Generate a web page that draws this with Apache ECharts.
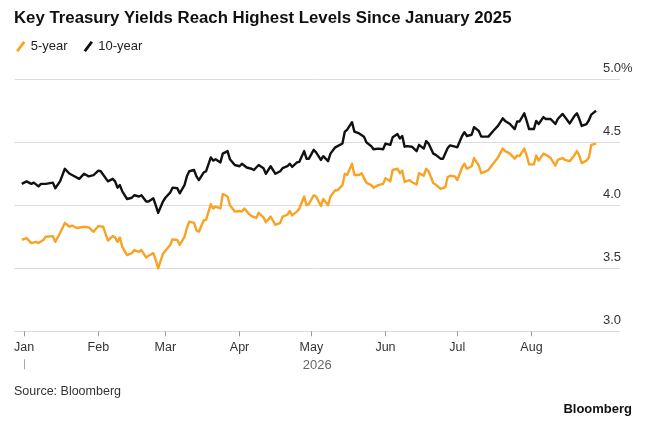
<!DOCTYPE html>
<html>
<head>
<meta charset="utf-8">
<script src="https://cdn.jsdelivr.net/npm/echarts@6/dist/echarts.min.js"></script>
<style>
html,body{margin:0;padding:0;background:#fff;}
#chart{width:647px;height:421px;}
</style>
</head>
<body>
<div id="chart"></div>
<script>
// Day offsets relative to 2026-01-01 and yields
const days10 = [-1,1,3,4,6,7,9,12,13,15,17,19,20,23,25,27,29,31,32,35,37,38,39,40,41,43,45,46,48,49,51,52,54,55,56,58,59,61,62,64,65,67,68,69,71,72,73,
75,76,78,79,80,82,83,85,86,88,90,91,93,95,96,98,100,101,103,105,107,108,110,111,112,114,115,117,118,119,121,122,124,125,127,128,130,131,133,134,135,137,138,140,142,143,145,146,148,150,151,153,154,156,157,
158,159,160,162,164,165,167,168,169,171,172,174,175,177,178,180,181,183,184,185,187,188,190,191,193,194,196,198,200,201,203,205,206,207,209,210,211,213,214,215,217,218,220,222,223,225,226,228,230,231,232,233,235,236,237,239];
const yield10 = [4.17,4.19,4.17,4.18,4.15,4.17,4.17,4.18,4.135,4.19,4.29,4.25,4.24,4.21,4.25,4.23,4.24,4.275,4.27,4.19,4.21,4.19,4.14,4.16,4.11,4.05,4.06,4.08,4.07,4.08,4.03,4.03,4.055,4.00,3.94,4.03,4.06,4.10,4.14,4.135,4.095,4.16,4.23,4.27,4.28,4.23,4.20,
4.26,4.27,4.38,4.355,4.365,4.34,4.41,4.43,4.365,4.32,4.31,4.33,4.30,4.29,4.28,4.32,4.295,4.25,4.31,4.25,4.27,4.295,4.31,4.33,4.305,4.34,4.345,4.43,4.37,4.37,4.44,4.42,4.36,4.39,4.35,4.41,4.46,4.47,4.49,4.585,4.60,4.66,4.585,4.57,4.545,4.50,4.47,4.445,4.45,4.445,4.49,4.48,4.54,4.565,4.53,
4.55,4.465,4.47,4.465,4.43,4.48,4.45,4.51,4.49,4.41,4.40,4.37,4.37,4.455,4.475,4.465,4.46,4.55,4.58,4.55,4.56,4.62,4.59,4.545,4.545,4.545,4.59,4.63,4.69,4.67,4.645,4.605,4.665,4.665,4.73,4.67,4.605,4.605,4.67,4.645,4.70,4.685,4.685,4.645,4.685,4.725,4.70,4.65,4.71,4.73,4.685,4.63,4.645,4.675,4.72,4.75];

const days5 = [-1,1,3,5,6,8,9,12,13,15,17,19,20,22,25,27,29,31,33,35,37,38,39,40,41,43,45,46,48,49,51,52,54,55,56,58,59,61,62,64,65,67,68,69,71,72,73,
75,76,78,79,80,82,83,85,86,88,90,91,92,94,95,97,98,100,101,103,105,107,108,110,111,112,114,115,117,118,119,121,122,124,125,127,128,130,131,133,134,135,137,138,140,141,143,145,146,148,150,151,153,154,156,157,
158,159,161,162,164,165,167,168,169,171,172,174,176,177,178,180,181,183,184,185,187,188,190,191,193,194,196,198,200,201,203,205,206,207,209,210,211,213,214,215,217,219,220,222,223,225,226,228,230,231,232,233,235,236,237,239];
const yield5 = [3.725,3.74,3.70,3.71,3.70,3.725,3.75,3.755,3.71,3.78,3.86,3.83,3.84,3.82,3.83,3.825,3.79,3.835,3.83,3.72,3.755,3.745,3.71,3.745,3.67,3.605,3.62,3.645,3.63,3.645,3.585,3.60,3.62,3.565,3.50,3.615,3.64,3.685,3.73,3.725,3.685,3.75,3.82,3.87,3.86,3.80,3.79,
3.88,3.885,4.01,3.975,3.99,3.975,4.09,4.07,4.00,3.95,3.955,3.95,3.975,3.93,3.915,3.90,3.94,3.905,3.865,3.91,3.845,3.86,3.91,3.925,3.955,3.92,3.95,3.975,4.07,4.00,4.01,4.08,4.07,3.995,4.05,4.00,4.07,4.12,4.12,4.16,4.25,4.24,4.33,4.24,4.24,4.255,4.18,4.16,4.14,4.16,4.17,4.215,4.19,4.28,4.29,4.255,
4.275,4.185,4.20,4.185,4.165,4.255,4.235,4.29,4.27,4.175,4.165,4.13,4.145,4.225,4.235,4.23,4.20,4.30,4.33,4.29,4.31,4.375,4.315,4.255,4.27,4.28,4.33,4.38,4.45,4.43,4.41,4.37,4.395,4.39,4.45,4.395,4.325,4.325,4.395,4.355,4.41,4.39,4.375,4.315,4.36,4.375,4.36,4.35,4.40,4.43,4.395,4.335,4.355,4.38,4.48,4.49];

const monthNames = ['Jan','Feb','Mar','Apr','May','Jun','Jul','Aug','Sep','Oct','Nov','Dec'];
const yTicks = [3.0, 3.5, 4.0, 4.5, 5.0];
const firstDay = -4, lastDay = 249;
const lastLabelledMonth = '2026-08';

// calendar-day categories
const base = Date.UTC(2026, 0, 1);
const categories = [];
for (let d = firstDay; d <= lastDay; d++) {
  const dt = new Date(base + d * 86400000);
  const m = String(dt.getUTCMonth() + 1).padStart(2, '0');
  const dd = String(dt.getUTCDate()).padStart(2, '0');
  categories.push(dt.getUTCFullYear() + '-' + m + '-' + dd);
}
function buildSeries(days, vals) {
  const arr = new Array(categories.length).fill(null);
  days.forEach((d, i) => { arr[d - firstDay] = vals[i]; });
  return arr;
}
const isMonthStart = (idx, val) => val.slice(8) === '01' && val.slice(0, 7) <= lastLabelledMonth && val.slice(0, 4) === '2026';
const isYearStart = (idx, val) => val === '2026-01-01';

const chart = echarts.init(document.getElementById('chart'), null, {renderer: 'canvas'});
const font = '"Liberation Sans", Arial, sans-serif';
chart.setOption({
  backgroundColor: '#fff',
  animation: false,
  title: {
    text: 'Key Treasury Yields Reach Highest Levels Since January 2025',
    left: 14, top: 10, padding: 0,
    textStyle: {fontFamily: font, fontSize: 16.8, fontWeight: 'bold', color: '#111'}
  },
  legend: {
    left: 16, top: 40, padding: 0,
    itemWidth: 10, itemHeight: 11, itemGap: 16,
    textStyle: {fontFamily: font, fontSize: 13, color: '#222'},
    data: [
      {name: '5-year', icon: 'path://M0,10 L7.5,0 L10,1.6 L2.5,11.6 Z'},
      {name: '10-year', icon: 'path://M0,10 L7.5,0 L10,1.6 L2.5,11.6 Z'}
    ]
  },
  grid: {left: 14.6, right: 27, top: 79.3, bottom: 89.7, containLabel: false},
  xAxis: [{
    type: 'category',
    data: categories,
    boundaryGap: false,
    axisLine: {show: false},
    axisTick: {show: true, interval: isMonthStart, length: 5, lineStyle: {color: '#999', width: 1}},
    axisLabel: {
      interval: isMonthStart, margin: 10,
      fontFamily: font, fontSize: 12.5, color: '#333',
      formatter: (val) => monthNames[parseInt(val.slice(5, 7), 10) - 1]
    },
    splitLine: {show: false},
    name: '2026', nameLocation: 'middle', nameGap: 25,
    nameTextStyle: {fontFamily: font, fontSize: 13, color: '#666', letterSpacing: 1}
  }, {
    type: 'category',
    data: categories,
    boundaryGap: false,
    position: 'bottom',
    offset: 28,
    axisLine: {show: false},
    axisTick: {show: true, interval: isYearStart, length: 10, lineStyle: {color: '#aaa', width: 1}},
    axisLabel: {show: false},
    splitLine: {show: false}
  }],
  yAxis: {
    type: 'value',
    position: 'right',
    min: 3.0, max: 5.0, interval: 0.5,
    axisLine: {show: false},
    axisTick: {show: false},
    splitLine: {show: true, lineStyle: {color: '#dcdcdc', width: 1}},
    axisLabel: {
      margin: -17, align: 'left', verticalAlign: 'bottom', padding: [0, 0, 4, 0],
      fontFamily: font, fontSize: 13, color: '#333',
      formatter: (v) => {
        const t = yTicks.find(x => Math.abs(x - v) < 1e-6);
        if (t === undefined) return '';
        return t === 5.0 ? t.toFixed(1) + '%' : t.toFixed(1);
      }
    }
  },
  series: [{
    name: '5-year', type: 'line', xAxisIndex: 0,
    data: buildSeries(days5, yield5),
    connectNulls: true, showSymbol: false, symbol: 'none',
    itemStyle: {color: '#f8a325'},
    lineStyle: {color: '#f8a325', width: 2.4, join: 'round'},
    z: 3
  }, {
    name: '10-year', type: 'line', xAxisIndex: 0,
    data: buildSeries(days10, yield10),
    connectNulls: true, showSymbol: false, symbol: 'none',
    itemStyle: {color: '#111'},
    lineStyle: {color: '#111', width: 2.4, join: 'round'},
    z: 4
  }],
  graphic: [{
    type: 'text', left: 14, top: 385,
    style: {text: 'Source: Bloomberg', font: '12.5px ' + font, fill: '#333'}
  }, {
    type: 'text', right: 15, top: 403,
    style: {text: 'Bloomberg', font: 'bold 13px ' + font, fill: '#111'}
  }]
});
</script>
</body>
</html>
